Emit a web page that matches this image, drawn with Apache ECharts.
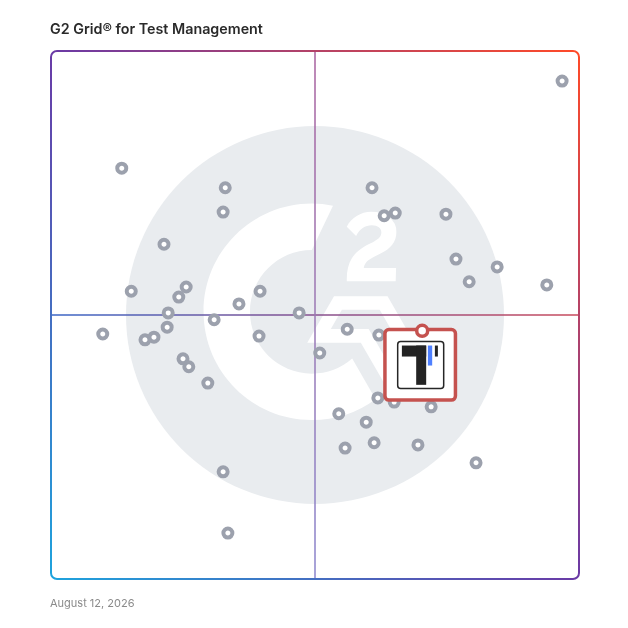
<!DOCTYPE html>
<html>
<head>
<meta charset="utf-8">
<script src="https://cdn.jsdelivr.net/npm/echarts/dist/echarts.min.js"></script>
<style>
html,body{margin:0;padding:0;background:#ffffff;}
#chart{width:628px;height:628px;}
</style>
</head>
<body>
<div id="chart"></div>
<script>
// ---- text ----
const chartTitle = 'G2 Grid® for Test Management';
const reportDate = 'August 12, 2026';

// ---- data (x = market presence, y = satisfaction, 0-100) ----
const productX = [96.8, 13.4, 33.0, 32.6, 21.4, 15.2, 25.6, 24.2, 35.6, 39.6, 47.0, 22.2, 22.0, 30.9, 9.8, 17.8, 19.5, 39.4, 25.0, 26.1, 29.7, 32.6, 33.5,
                  60.8, 63.1, 65.2, 74.8, 76.7, 84.5, 79.2, 93.9,
                  56.1, 50.9, 62.1, 61.9, 65.0, 72.0, 54.5, 59.7, 55.7, 61.2, 69.5, 80.5];
const productY = [94.3, 77.8, 74.1, 69.5, 63.4, 54.5, 55.3, 53.4, 52.1, 54.5, 50.4, 50.4, 47.7, 49.1, 46.4, 45.3, 45.8, 46.0, 41.7, 40.2, 37.1, 20.3, 8.7,
                  74.1, 68.8, 69.3, 69.1, 60.6, 59.1, 56.3, 55.7,
                  47.3, 42.8, 46.2, 34.3, 33.5, 32.6, 31.3, 29.7, 24.8, 25.8, 25.4, 22.0];
const highlightX = [70.3];
const highlightY = [47.0];

const axisMin = 0, axisMax = 100, axisMid = 50;

// ---- decorative logo geometry (1000x1000 design units) ----
const LOGO_RATIO = 189 / 528;
const G_PATH = 'M491.6 655.1c-90.2 0-163.6-73.4-163.6-163.6s73.4-163.6 163.6-163.6l56-117.2a282.4 282.4 0 0 0-56-5.6c-158.2 0-286.4 128.2-286.4 286.4s128.2 286.4 286.4 286.4a285.1 285.1 0 0 0 168.8-55.1l-62-107.5a163.4 163.4 0 0 1-106.8 40z';
const TWO_PATH = 'M703.48 375.51H618.06c2.3-13.4 10.6-20.9 27.4-29.4l15.7-8c28.1-14.4 43.1-30.7 43.1-57.3a46.52 46.52 0 0 0-19.5-39.6c-12.7-9.6-28.3-14.4-46.3-14.4a72 72 0 0 0-39.3 11.2c-11.8 7.3-20.6 16.7-26.1 28.4l24.7 24.8c9.6-19.4 23.5-28.9 41.8-28.9 15.5 0 25 8 25 19.1 0 9.3-4.6 17-22.4 26l-10.1 4.9c-21.9 11.1-37.1 23.8-45.9 38.2s-13.1 32.5-13.1 54.3v5.9h129.4z';
const CHEVRON = [[692,450.4],[550.3,450.4],[479.5,573.1],[621.2,573.1],[692,695.8],[762.8,573.1]];
const TWO_SHIFT = 11;

function insetPolygon(pts, t) {
  const n = pts.length;
  let a = 0;
  for (let i = 0; i < n; i++) { const p = pts[i], q = pts[(i+1)%n]; a += p[0]*q[1] - q[0]*p[1]; }
  const s = a > 0 ? 1 : -1;
  const lines = [];
  for (let i = 0; i < n; i++) {
    const p = pts[i], q = pts[(i+1)%n];
    let dx = q[0]-p[0], dy = q[1]-p[1];
    const L = Math.hypot(dx, dy); dx /= L; dy /= L;
    const nx = -dy*s, ny = dx*s;
    lines.push({p:[p[0]+nx*t, p[1]+ny*t], d:[dx, dy]});
  }
  const out = [];
  for (let i = 0; i < n; i++) {
    const l1 = lines[(i-1+n)%n], l2 = lines[i];
    const cr = l1.d[0]*l2.d[1] - l1.d[1]*l2.d[0];
    const wx = l2.p[0]-l1.p[0], wy = l2.p[1]-l1.p[1];
    const u = (wx*l2.d[1] - wy*l2.d[0]) / cr;
    out.push([l1.p[0]+u*l1.d[0], l1.p[1]+u*l1.d[1]]);
  }
  return out;
}
const CHEVRON_INNER = insetPolygon(CHEVRON, 36);

const LOGO_GREY = '#e9ecef';

const chart = echarts.init(document.getElementById('chart'), null, {renderer: 'canvas'});

const productData = productX.map((x, i) => [x, productY[i]]);
const highlightData = highlightX.map((x, i) => [x, highlightY[i]]);

function renderLogo(params, api) {
  const c = api.coord([axisMid, axisMid]);
  const full = api.size([axisMax - axisMin, axisMax - axisMin]);
  const k = full[0] * LOGO_RATIO / 500;
  const T = {x: c[0] - 500*k, y: c[1] - 500*k, scaleX: k, scaleY: k};
  const T2 = {x: c[0] - (500 - TWO_SHIFT)*k, y: c[1] - 500*k, scaleX: k, scaleY: k};
  return {
    type: 'group',
    children: [
      Object.assign({type: 'circle', shape: {cx: 500, cy: 500, r: 500}, style: {fill: LOGO_GREY}}, T),
      Object.assign({type: 'path', shape: {pathData: G_PATH}, style: {fill: '#ffffff'}}, T),
      Object.assign({type: 'path', shape: {pathData: TWO_PATH}, style: {fill: '#ffffff'}}, T2),
      Object.assign({type: 'polygon', shape: {points: CHEVRON}, style: {fill: '#ffffff'}}, T),
      Object.assign({type: 'polygon', shape: {points: CHEVRON_INNER}, style: {fill: LOGO_GREY}}, T)
    ]
  };
}

function renderFrame(params, api) {
  const tl = api.coord([axisMin, axisMax]);
  const br = api.coord([axisMax, axisMin]);
  const m = api.coord([axisMid, axisMid]);
  const G = echarts.graphic.LinearGradient;
  return {
    type: 'group',
    children: [
      {type: 'line', shape: {x1: tl[0], y1: m[1], x2: br[0], y2: m[1]},
       style: {stroke: new G(tl[0], 0, br[0], 0, [
         {offset: 0, color: '#3a66c6'}, {offset: 0.5, color: '#87508f'}, {offset: 1, color: '#c84a5c'}], true), lineWidth: 1.5}},
      {type: 'line', shape: {x1: m[0], y1: tl[1], x2: m[0], y2: br[1]},
       style: {stroke: new G(0, tl[1], 0, br[1], [
         {offset: 0, color: '#a8609e'}, {offset: 0.5, color: '#9a78b4'}, {offset: 1, color: '#8a84cc'}], true), lineWidth: 1.5}},
      {type: 'rect', shape: {x: tl[0], y: tl[1], width: br[0]-tl[0], height: br[1]-tl[1], r: 6},
       style: {fill: 'none', stroke: new G(br[0], tl[1], tl[0], br[1], [
         {offset: 0, color: '#ff4a28'}, {offset: 0.5, color: '#6a3aa6'}, {offset: 1, color: '#1ea3dd'}], true), lineWidth: 2}}
    ]
  };
}

function renderHighlightBox(params, api) {
  const p = api.coord([api.value(0), api.value(1)]);
  const px = p[0], py = p[1];
  const dark = '#232323';
  return {
    type: 'group',
    children: [
      {type: 'rect', shape: {x: px-37.25, y: py-1.25, width: 70.5, height: 70.5, r: 4},
       style: {fill: '#ffffff', stroke: '#c5524f', lineWidth: 3.5}},
      {type: 'rect', shape: {x: px-24.5, y: py+10.75, width: 46, height: 47, r: 3},
       style: {fill: '#ffffff', stroke: '#262626', lineWidth: 1.5}},
      {type: 'rect', shape: {x: px-20.3, y: py+14.7, width: 24.3, height: 11}, style: {fill: dark}},
      {type: 'rect', shape: {x: px-6, y: py+14.7, width: 10, height: 39.3}, style: {fill: dark}},
      {type: 'rect', shape: {x: px+5.7, y: py+14.7, width: 4.3, height: 20}, style: {fill: '#4f80ff'}},
      {type: 'rect', shape: {x: px+12.7, y: py+14.7, width: 3, height: 11}, style: {fill: dark}}
    ]
  };
}

chart.setOption({
  animation: false,
  backgroundColor: '#ffffff',
  title: [
    {text: chartTitle, left: 50, top: 23, padding: 0,
     textStyle: {fontFamily: 'Inter, sans-serif', fontSize: 14.3, fontWeight: 600, color: '#2a2a2a'}},
    {text: reportDate, left: 50, top: 598, padding: 0,
     textStyle: {fontFamily: 'Inter, sans-serif', fontSize: 11, fontWeight: 'normal', color: '#8a8a8a'}}
  ],
  grid: {left: 51, top: 51, width: 528, height: 528},
  xAxis: {type: 'value', min: axisMin, max: axisMax, show: false},
  yAxis: {type: 'value', min: axisMin, max: axisMax, show: false},
  series: [
    {type: 'custom', name: 'logo', data: [[axisMid, axisMid]], renderItem: renderLogo, z: 0, silent: true, clip: false},
    {type: 'custom', name: 'frame', data: [[axisMid, axisMid]], renderItem: renderFrame, z: 1, silent: true, clip: false},
    {type: 'scatter', name: 'Products', data: productData, symbol: 'circle', symbolSize: 9,
     itemStyle: {color: '#ffffff', borderColor: '#9ca1ad', borderWidth: 4, opacity: 1}, z: 5, silent: true},
    {type: 'custom', name: 'highlightBox', data: highlightData, renderItem: renderHighlightBox, z: 10, silent: true, clip: false},
    {type: 'scatter', name: 'Highlighted', data: highlightData, symbol: 'circle', symbolSize: 11,
     itemStyle: {color: '#ffffff', borderColor: '#c5524f', borderWidth: 3.5, opacity: 1}, z: 20, silent: true}
  ]
});
</script>
</body>
</html>
